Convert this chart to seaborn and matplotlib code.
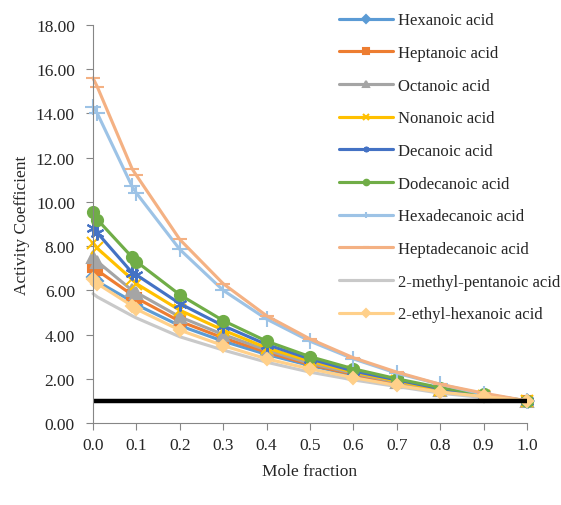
import numpy as np
import pandas as pd
import seaborn as sns
import matplotlib.pyplot as plt

# mole fraction points (duplicate points near 0 and 0.1 as in the source)
mole_fraction = [0.0, 0.01, 0.09, 0.1, 0.2, 0.3, 0.4, 0.5, 0.6, 0.7, 0.8, 0.9, 1.0]

hexanoic = [6.6, 6.4, 5.5, 5.35, 4.4, 3.7, 3.1, 2.6, 2.15, 1.75, 1.45, 1.2, 1.0]
heptanoic = [7.05, 6.9, 5.8, 5.65, 4.6, 3.85, 3.2, 2.65, 2.2, 1.8, 1.45, 1.2, 1.0]
octanoic = [7.5, 7.3, 6.0, 5.9, 4.8, 4.0, 3.3, 2.7, 2.25, 1.85, 1.5, 1.2, 1.0]
nonanoic = [8.15, 7.9, 6.5, 6.3, 5.1, 4.2, 3.4, 2.8, 2.3, 1.9, 1.5, 1.2, 1.0]
decanoic = [8.8, 8.6, 6.8, 6.7, 5.4, 4.4, 3.55, 2.9, 2.35, 1.95, 1.55, 1.25, 1.0]
dodecanoic = [9.55, 9.2, 7.5, 7.3, 5.8, 4.63, 3.7, 3.0, 2.45, 2.0, 1.6, 1.3, 1.0]
hexadecanoic = [14.3, 14.0, 10.7, 10.4, 7.85, 6.0, 4.7, 3.7, 2.9, 2.25, 1.75, 1.3, 1.0]
heptadecanoic = [15.6, 15.2, 11.5, 11.2, 8.3, 6.3, 4.85, 3.8, 2.95, 2.3, 1.75, 1.35, 1.0]
methyl_pentanoic = [5.85, 5.7, 4.85, 4.75, 3.9, 3.3, 2.75, 2.3, 1.95, 1.65, 1.35, 1.15, 1.0]
ethyl_hexanoic = [6.5, 6.3, 5.3, 5.15, 4.2, 3.5, 2.9, 2.45, 2.05, 1.7, 1.4, 1.2, 1.0]

names = ['Hexanoic acid', 'Heptanoic acid', 'Octanoic acid', 'Nonanoic acid',
         'Decanoic acid', 'Dodecanoic acid', 'Hexadecanoic acid',
         'Heptadecanoic acid', '2-methyl-pentanoic acid', '2-ethyl-hexanoic acid']
series = [hexanoic, heptanoic, octanoic, nonanoic, decanoic, dodecanoic,
          hexadecanoic, heptadecanoic, methyl_pentanoic, ethyl_hexanoic]
colors = ['#5B9BD5', '#ED7D31', '#A5A5A5', '#FFC000', '#4472C4', '#70AD47',
          '#9DC3E6', '#F4B183', '#C9C9C9', '#FFD08A']
markers = ['D', 's', '^', 'x', (6, 2, 0), 'o', '+', '_', None, 'D']
msizes = [6, 7, 8, 8, 10, 8, 12, 10, 0, 6]

sns.set_style('white')
plt.rcParams['font.family'] = ['Liberation Serif', 'DejaVu Serif']

fig = plt.figure(figsize=(5.61, 5.06), dpi=100)
ax = fig.add_axes([93/561, 1-424/506, (527-93)/561, (424-26)/506])

for i in range(len(names)):
    sns.lineplot(x=mole_fraction, y=series[i], ax=ax, color=colors[i],
                 marker=markers[i], markersize=msizes[i], markeredgewidth=1.5,
                 markeredgecolor=colors[i], linewidth=2.25, label=names[i],
                 clip_on=False)

sns.lineplot(x=[0, 1], y=[1, 1], ax=ax, color='black', linewidth=3.2)

ax.set_xlim(0, 1)
ax.set_ylim(0, 18)
ax.set_xticks(np.arange(0, 1.01, 0.1))
ax.set_xticklabels(['%.1f' % v for v in np.arange(0, 1.01, 0.1)], fontsize=12.5)
ax.set_yticks(np.arange(0, 18.1, 2))
ax.set_yticklabels(['%.2f' % v for v in np.arange(0, 18.1, 2)], fontsize=12.5)
ax.tick_params(axis='both', direction='out', length=5, color='#868686',
               bottom=True, left=True)
ax.tick_params(axis='y', pad=8)
ax.tick_params(axis='x', pad=5)
for s in ['top', 'right']:
    ax.spines[s].set_visible(False)
for s in ['left', 'bottom']:
    ax.spines[s].set_color('#868686')
ax.set_xlabel('Mole fraction', fontsize=12.5, labelpad=7)
ax.set_ylabel('Activity Coefficient', fontsize=12.5)
ax.yaxis.set_label_coords((30-93)/434, 0.5)

handles, labels = ax.get_legend_handles_labels()
leg = ax.legend(handles[:10], labels[:10], loc='upper left',
                bbox_to_anchor=(336/561, 1-10/506), bbox_transform=fig.transFigure,
                frameon=True, fontsize=12, handlelength=3.2, handletextpad=0.3,
                labelspacing=1.0, borderaxespad=0, borderpad=0.2)
leg.get_frame().set_facecolor('white')
leg.get_frame().set_edgecolor('none')
for line in leg.get_lines():
    line.set_markersize(4)

fig.savefig('out.png', dpi=100)
